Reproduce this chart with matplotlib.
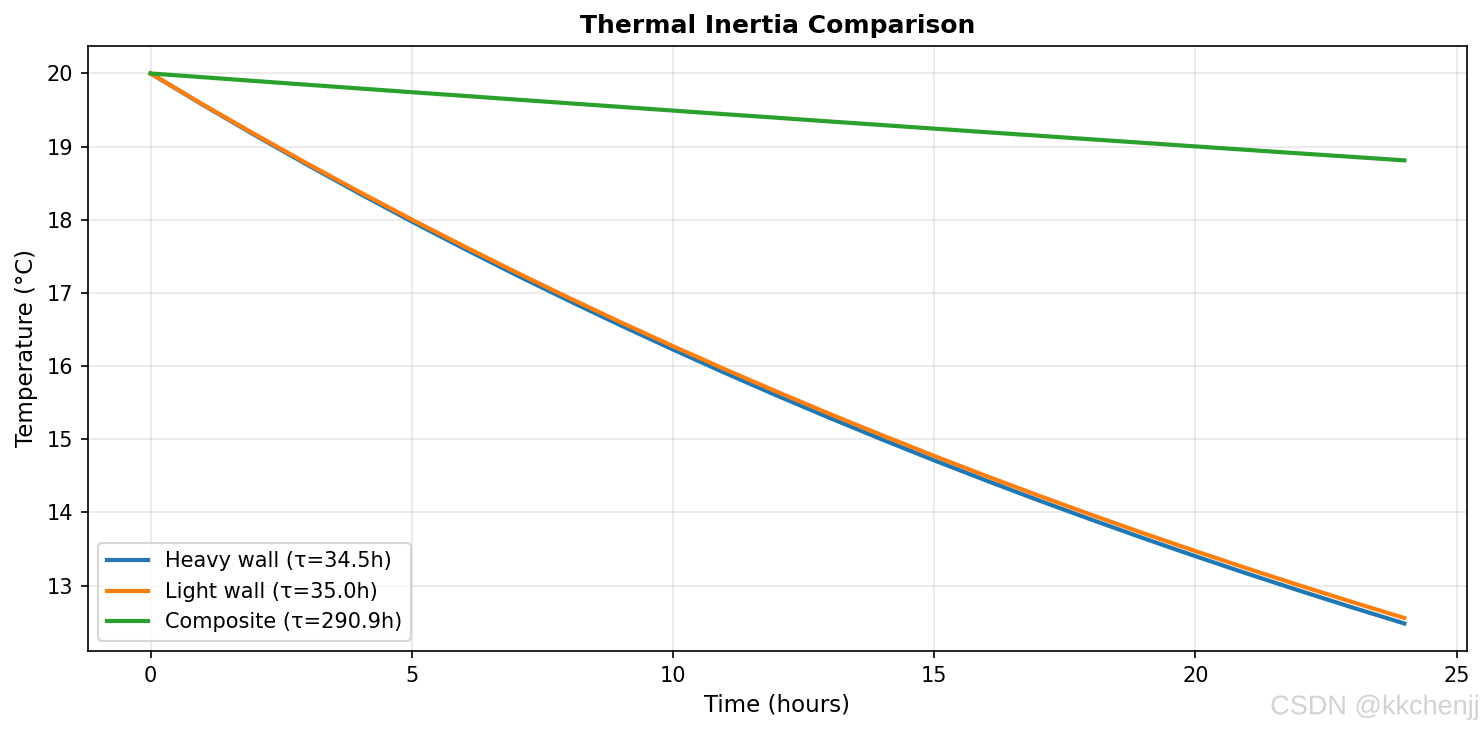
import matplotlib
matplotlib.use("Agg")
import matplotlib.pyplot as plt
import matplotlib.patheffects as pe

hours = list(range(25))
heavy = [20.000, 19.571, 19.155, 18.751, 18.358, 17.976, 17.606, 17.245, 16.896, 16.556,
         16.226, 15.905, 15.593, 15.291, 14.997, 14.711, 14.434, 14.164, 13.903, 13.648,
         13.401, 13.161, 12.928, 12.701, 12.481]
light = [20.000, 19.577, 19.167, 18.768, 18.380, 18.003, 17.637, 17.281, 16.935, 16.599,
         16.272, 15.955, 15.646, 15.346, 15.055, 14.772, 14.496, 14.229, 13.969, 13.716,
         13.471, 13.232, 13.000, 12.775, 12.556]
composite = [20.000, 19.949, 19.897, 19.846, 19.795, 19.744, 19.694, 19.643, 19.593, 19.543,
             19.493, 19.443, 19.394, 19.344, 19.295, 19.246, 19.197, 19.149, 19.100, 19.052,
             19.003, 18.955, 18.907, 18.860, 18.812]
labels = ["Heavy wall (τ=34.5h)", "Light wall (τ=35.0h)", "Composite (τ=290.9h)"]

fig = plt.figure(figsize=(1483/150, 732/150), dpi=150)
ax = fig.add_axes([0.0593, 0.1107, 0.9299, 0.8265])
ax.plot(hours, heavy, lw=2, label=labels[0], color="#1f77b4")
ax.plot(hours, light, lw=2, label=labels[1], color="#ff7f0e")
ax.plot(hours, composite, lw=2, label=labels[2], color="#2ca02c")
ax.set_xlabel("Time (hours)", fontsize=11)
ax.set_ylabel("Temperature (°C)", fontsize=11)
ax.set_title("Thermal Inertia Comparison", fontsize=12, fontweight="bold")
ax.grid(True, alpha=0.3)
ax.legend(loc="lower left", fontsize=10)
fig.text(0.998, 0.016, "CSDN @kkchenjj", ha="right", va="bottom", fontsize=13,
         family="Liberation Sans", color="#d2d2d2",
         path_effects=[pe.SimpleLineShadow(offset=(0.6, -0.6), shadow_color="#999999", alpha=0.5),
                       pe.Normal()])
fig.savefig("out.png", dpi=150)
